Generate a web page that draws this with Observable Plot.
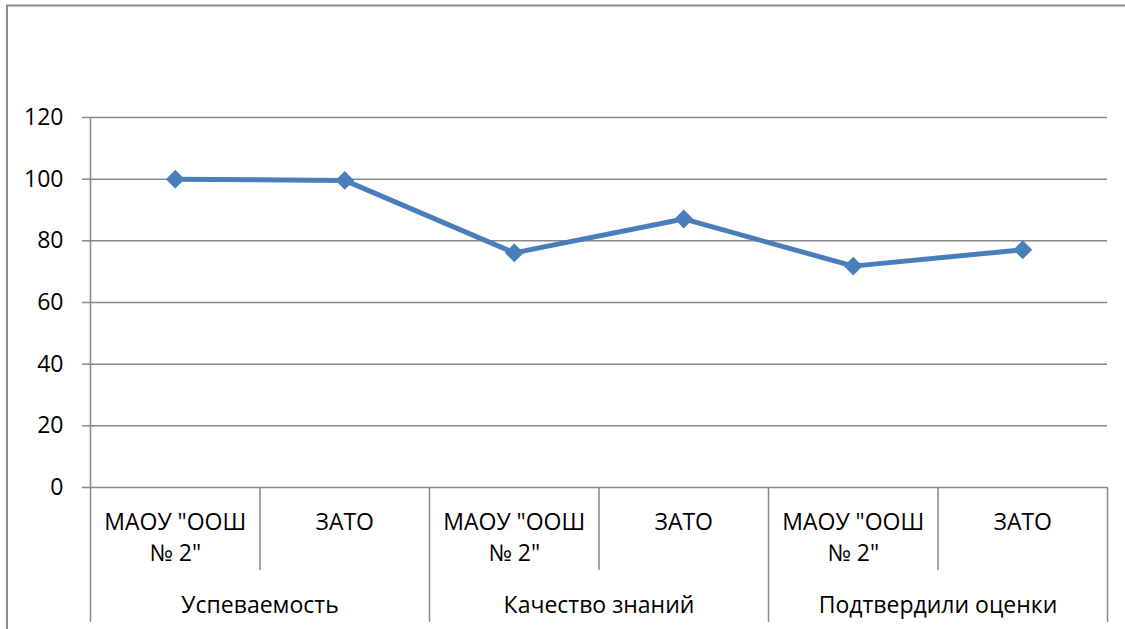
<!DOCTYPE html>
<html>
<head>
<meta charset="utf-8">
<script src="https://cdn.jsdelivr.net/npm/d3@7"></script>
<script src="https://cdn.jsdelivr.net/npm/@observablehq/plot@0.6"></script>
<style>
html, body { margin: 0; padding: 0; background: #fff; overflow: hidden; width: 1125px; height: 629px; }
svg { display: block; }
</style>
</head>
<body>
<script>
// Data
const categories = ["МАОУ \"ООШ\n№ 2\"", "ЗАТО", "МАОУ \"ООШ\n№ 2\"", "ЗАТО", "МАОУ \"ООШ\n№ 2\"", "ЗАТО"];
const groups = ["Успеваемость", "Качество знаний", "Подтвердили оценки"];
const values = [100, 99.6, 76.1, 87.1, 71.8, 77.1];
const yTicks = [0, 20, 40, 60, 80, 100, 120];

const data = values.map((v, i) => ({pos: i + 0.5, value: v, category: categories[i], group: groups[Math.floor(i / 2)]}));
const catCenters = categories.map((c, i) => i + 0.5);
const groupCenters = groups.map((g, j) => j * 2 + 1);
const innerBounds = categories.map((c, i) => i).filter(i => i % 2 === 1);
const groupBounds = d3.range(groups.length + 1).map(j => j * 2);

const gridColor = "#888888";
const lineColor = "#4a7ebb";

// chart-area outline (top and left edges visible in the picture)
const outline = (index, scales, values, dims) =>
  d3.create("svg:path")
    .attr("d", `M7,${dims.height + 10}V5.5H${dims.width + 10}`)
    .attr("fill", "none")
    .attr("stroke", "#8c8c8c")
    .attr("stroke-width", 2)
    .node();

const chart = Plot.plot({
  width: 1125,
  height: 629,
  marginLeft: 90,
  marginRight: 18,
  marginTop: 117,
  marginBottom: 142,
  style: {fontFamily: "'Open Sans', sans-serif", fontSize: "23px", color: "#000", background: "#fff"},
  x: {domain: [0, categories.length]},
  y: {domain: [0, 120]},
  marks: [
    outline,
    Plot.gridY(yTicks, {stroke: gridColor, strokeOpacity: 1, strokeWidth: 1.5}),
    Plot.ruleX([0], {stroke: gridColor, strokeWidth: 1.5}),
    Plot.axisY(yTicks, {tickSize: 8, tickPadding: 19, stroke: gridColor, strokeWidth: 1.5, fill: "#000", label: null}),
    Plot.axisX(innerBounds, {tickSize: 83, tickFormat: () => "", stroke: gridColor, strokeWidth: 1.5, label: null}),
    Plot.axisX(groupBounds, {tickSize: 135, tickFormat: () => "", stroke: gridColor, strokeWidth: 1.5, label: null}),
    Plot.axisX(catCenters, {tickSize: 0, tickPadding: 20, lineHeight: 1.37, tickFormat: d => categories[Math.floor(d)], fill: "#000", label: null}),
    Plot.axisX(groupCenters, {tickSize: 0, tickPadding: 109, tickFormat: d => groups[Math.round((d - 1) / 2)], fill: "#000", label: null}),
    Plot.line(data, {x: "pos", y: "value", stroke: lineColor, strokeWidth: 5, strokeLinejoin: "round"}),
    Plot.dot(data, {x: "pos", y: "value", symbol: "diamond2", r: 8.5, fill: lineColor, stroke: "none"})
  ]
});
document.body.appendChild(chart);
</script>
</body>
</html>
